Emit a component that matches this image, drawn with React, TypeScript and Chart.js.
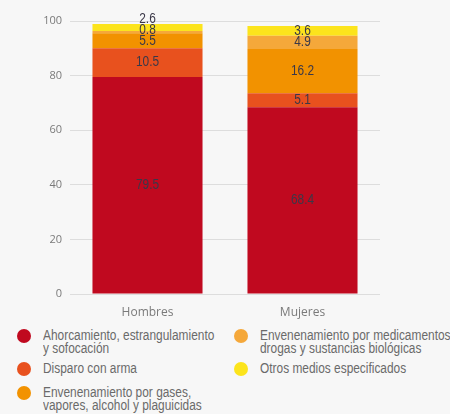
import React, { useEffect, useRef } from "react";
import { Chart, registerables } from "chart.js";

Chart.register(...registerables);

const categories = ["Hombres", "Mujeres"];
const seriesNames = [
  "Ahorcamiento, estrangulamiento\ny sofocación",
  "Disparo con arma",
  "Envenenamiento por gases,\nvapores, alcohol y plaguicidas",
  "Envenenamiento por medicamentos,\ndrogas y sustancias biológicas",
  "Otros medios especificados",
];
const ahorcamiento = [79.5, 68.4];
const disparo = [10.5, 5.1];
const gases = [5.5, 16.2];
const medicamentos = [0.8, 4.9];
const otros = [2.6, 3.6];
const seriesValues = [ahorcamiento, disparo, gases, medicamentos, otros];
const seriesColors = ["#C0091F", "#E8511E", "#F29200", "#F5A83A", "#FCE41C"];
const yMin = 0;
const yMax = 100;
const yStep = 20;

const labelPlugin = {
  id: "segLabels",
  afterDatasetsDraw(chart: any) {
    const ctx = chart.ctx;
    ctx.save();
    ctx.font = "14px 'Liberation Sans', sans-serif";
    ctx.fillStyle = "#3b3848";
    ctx.textAlign = "center";
    ctx.textBaseline = "middle";
    const gap = 11;
    categories.forEach((_, i) => {
      let prevY = Infinity;
      chart.data.datasets.forEach((ds: any, d: number) => {
        const meta = chart.getDatasetMeta(d);
        const el: any = meta.data[i];
        if (!el) return;
        let y = (el.y + el.base) / 2;
        if (y > prevY - gap) y = prevY - gap;
        prevY = y;
        ctx.save();
        ctx.translate(el.x, y);
        ctx.scale(0.85, 1);
        ctx.fillText(Number(ds.data[i]).toFixed(1), 0, 0);
        ctx.restore();
      });
    });
    ctx.restore();
  },
};

function ChartCanvas() {
  const ref = useRef<HTMLCanvasElement | null>(null);
  useEffect(() => {
    document.body.style.margin = "0";
    const chart = new Chart(ref.current as HTMLCanvasElement, {
      type: "bar",
      data: {
        labels: categories,
        datasets: seriesValues.map((vals, k) => ({
          label: seriesNames[k],
          data: vals,
          backgroundColor: seriesColors[k],
          borderWidth: 0,
          barPercentage: 0.71,
          categoryPercentage: 1,
        })),
      },
      options: {
        responsive: false,
        animation: false,
        layout: { padding: { top: 21, right: 70, left: 0, bottom: 0 } },
        plugins: { legend: { display: false }, tooltip: { enabled: false } },
        scales: {
          x: {
            stacked: true,
            grid: { display: false, drawTicks: false },
            border: { display: false },
            ticks: {
              padding: 11,
              color: "#7a7a7a",
              font: { family: "'Open Sans', sans-serif", size: 12 },
            },
            afterFit: (s: any) => {
              s.height = 28;
            },
          },
          y: {
            stacked: true,
            min: yMin,
            max: yMax,
            grid: { color: "#dddddd", drawTicks: false },
            border: { display: false },
            ticks: {
              stepSize: yStep,
              padding: 8,
              color: "#7a7a7a",
              font: { family: "'Open Sans', sans-serif", size: 11 },
            },
            afterFit: (s: any) => {
              s.width = 70;
            },
          },
        },
      },
      plugins: [labelPlugin],
    });
    return () => chart.destroy();
  }, []);
  return <canvas ref={ref} width={450} height={322} style={{ display: "block" }} />;
}

export default function App() {
  const order = [0, 3, 1, 4, 2];
  const item = (k: number) => (
    <div key={k} style={{ display: "flex", alignItems: "flex-start" }}>
      <span
        style={{
          width: 14,
          height: 14,
          borderRadius: "50%",
          background: seriesColors[k],
          flex: "0 0 14px",
          marginTop: 0,
          marginRight: 12,
        }}
      />
      <span
        style={{
          whiteSpace: "pre",
          lineHeight: "13px",
          display: "inline-block",
          transform: "scaleX(0.85)",
          transformOrigin: "0 0",
        }}
      >
        {seriesNames[k]}
      </span>
    </div>
  );
  return (
    <div
      style={{
        position: "relative",
        width: 450,
        height: 414,
        background: "#f7f7f7",
        overflow: "hidden",
      }}
    >
      <ChartCanvas />
      <div
        style={{
          position: "absolute",
          top: 329,
          left: 17,
          display: "grid",
          gridTemplateColumns: "217px 200px",
          gridTemplateRows: "33px 24px 28px",
          fontFamily: "'Liberation Sans', sans-serif",
          fontSize: 14,
          color: "#6a6a6a",
        }}
      >
        {order.map(item)}
      </div>
    </div>
  );
}
